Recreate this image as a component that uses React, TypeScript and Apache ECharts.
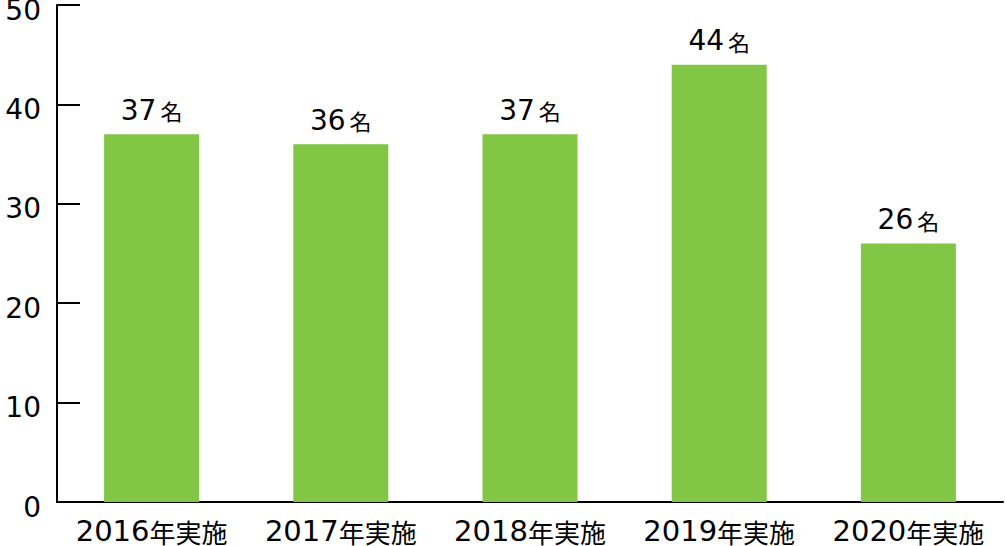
import React, { useEffect, useRef } from "react";
import * as echarts from "echarts";

const categories = ["2016年実施", "2017年実施", "2018年実施", "2019年実施", "2020年実施"];
const values = [37, 36, 37, 44, 26];
const unit = "名";

const DIGIT_FONT = "'DejaVu Sans', 'Noto Sans CJK JP', sans-serif";
const CJK_FONT = "'Noto Sans CJK JP', sans-serif";

export default function App() {
  const ref = useRef<HTMLDivElement>(null);
  useEffect(() => {
    const chart = echarts.init(ref.current!, null, { renderer: "svg" });
    chart.setOption({
      animation: false,
      grid: { left: 57, right: 2, top: 5, bottom: 44, containLabel: false, outerBoundsMode: "none" },
      xAxis: {
        type: "category",
        data: categories,
        axisLine: { lineStyle: { color: "#000", width: 2 } },
        axisTick: { inside: true, length: 12, lineStyle: { color: "#000", width: 2 } },
        axisLabel: {
          margin: 15,
          formatter: (v: string) => {
            const m = v.match(/^(\d+)(.*)$/);
            return m ? `{d|${m[1]}}{c|${m[2]}}` : v;
          },
          rich: {
            d: { fontSize: 29, lineHeight: 28, color: "#000", fontFamily: DIGIT_FONT },
            c: { fontSize: 26, lineHeight: 28, color: "#000", fontFamily: CJK_FONT },
          },
        },
      },
      yAxis: {
        type: "value",
        min: 0,
        max: 50,
        interval: 10,
        splitLine: { show: false },
        axisLine: { show: true, lineStyle: { color: "#000", width: 2 } },
        axisTick: { show: true, inside: true, length: 23, lineStyle: { color: "#000", width: 2 } },
        axisLabel: {
          color: "#000",
          fontSize: 28,
          fontFamily: DIGIT_FONT,
          margin: 16,
          verticalAlign: "top",
          lineHeight: 10,
        },
      },
      series: [
        {
          type: "bar",
          data: values,
          barWidth: 95,
          itemStyle: { color: "#81C645" },
          label: {
            show: true,
            position: "top",
            distance: 10,
            formatter: (p: any) => `{n|${p.value}}{u|${unit}}`,
            rich: {
              n: { fontSize: 28, color: "#000", fontFamily: DIGIT_FONT },
              u: { fontSize: 22, color: "#000", fontFamily: CJK_FONT, padding: [0, 0, 0, 4] },
            },
          },
        },
      ],
    });
    return () => chart.dispose();
  }, []);
  return <div ref={ref} style={{ width: 1005, height: 546, position: "absolute", left: 0, top: 0 }} />;
}
